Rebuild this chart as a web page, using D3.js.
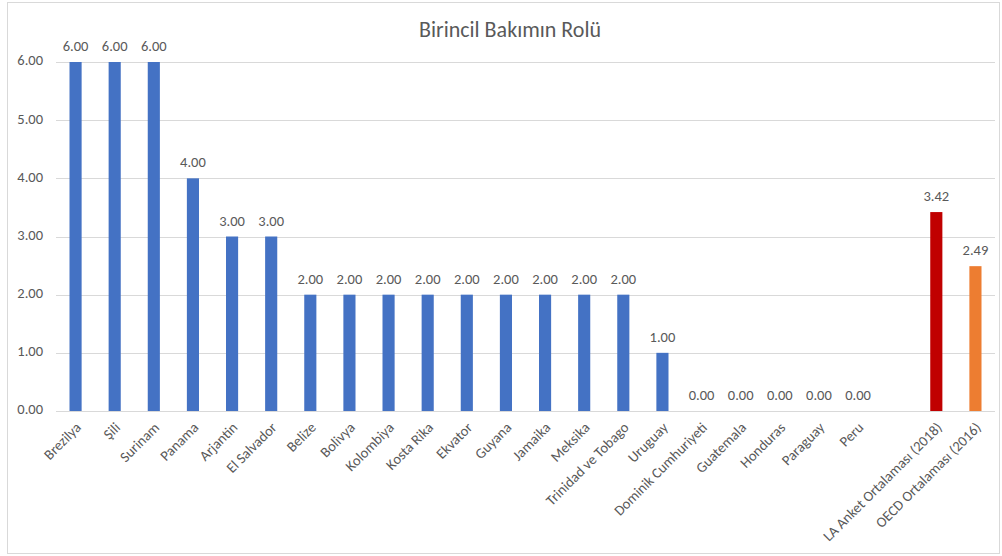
<!DOCTYPE html>
<html>
<head>
<meta charset="utf-8">
<script src="https://cdn.jsdelivr.net/npm/d3@7"></script>
<style>
  html, body { margin: 0; padding: 0; background: #fff; }
  svg text { font-family: Carlito, Calibri, Lato, "Liberation Sans", sans-serif; fill: #595959; }
</style>
</head>
<body>
<div id="viz"></div>
<script>
// categories in display order; the empty slot separates countries from the averages
const categories = ['Brezilya', 'Şili', 'Surinam', 'Panama', 'Arjantin', 'El Salvador', 'Belize',
  'Bolivya', 'Kolombiya', 'Kosta Rika', 'Ekvator', 'Guyana', 'Jamaika', 'Meksika',
  'Trinidad ve Tobago', 'Uruguay', 'Dominik Cumhuriyeti', 'Guatemala', 'Honduras',
  'Paraguay', 'Peru', '', 'LA Anket Ortalaması (2018)', 'OECD Ortalaması (2016)'];
const values = [6, 6, 6, 4, 3, 3, 2, 2, 2, 2, 2, 2, 2, 2, 2, 1, 0, 0, 0, 0, 0, null, 3.42, 2.49];
const yTicks = [0, 1, 2, 3, 4, 5, 6];

const barColor = (c) => c === 'LA Anket Ortalaması (2018)' ? '#C00000'
  : c === 'OECD Ortalaması (2016)' ? '#ED7D31' : '#4472C4';

const W = 1002, H = 556;
const margin = { top: 62, right: 7, bottom: 145, left: 56 };
const width = W - margin.left - margin.right;
const height = H - margin.top - margin.bottom;

const root = d3.select('#viz').append('svg')
  .attr('width', W).attr('height', H);

// chart frame
root.append('rect')
  .attr('x', 7.5).attr('y', 2.5)
  .attr('width', W - 10).attr('height', H - 5)
  .attr('fill', 'none').attr('stroke', '#d9d9d9');

root.append('text')
  .attr('x', 510).attr('y', 37)
  .attr('text-anchor', 'middle')
  .style('font-size', '22px')
  .text('Birincil Bakımın Rolü');

const svg = root.append('g')
  .attr('transform', `translate(${margin.left},${margin.top})`);

const x = d3.scaleBand().domain(categories.map((c, i) => i)).range([0, width]).paddingInner(0.69).paddingOuter(0.345);
const y = d3.scaleLinear().domain([0, 6]).range([height, 0]);

// gridlines
svg.append('g')
  .selectAll('line')
  .data(yTicks)
  .join('line')
  .attr('x1', 0).attr('x2', width)
  .attr('y1', d => Math.round(y(d)) + 0.5).attr('y2', d => Math.round(y(d)) + 0.5)
  .attr('stroke', '#d9d9d9');

// y tick labels
svg.append('g')
  .selectAll('text')
  .data(yTicks)
  .join('text')
  .attr('x', -13).attr('y', d => y(d))
  .attr('text-anchor', 'end')
  .attr('dominant-baseline', 'middle')
  .style('font-size', '14.5px')
  .text(d => d.toFixed(2));

const data = categories.map((c, i) => ({ c, i, v: values[i] })).filter(d => d.v !== null);

svg.append('g')
  .selectAll('rect')
  .data(data)
  .join('rect')
  .attr('x', d => x(d.i))
  .attr('width', x.bandwidth())
  .attr('y', d => y(d.v))
  .attr('height', d => y(0) - y(d.v))
  .attr('fill', d => barColor(d.c));

// value labels
svg.append('g')
  .selectAll('text')
  .data(data)
  .join('text')
  .attr('x', d => x(d.i) + x.bandwidth() / 2)
  .attr('y', d => y(d.v) - 11)
  .attr('text-anchor', 'middle')
  .style('font-size', '14.5px')
  .text(d => d.v.toFixed(2));

// category labels, rotated
svg.append('g')
  .selectAll('text')
  .data(categories.map((c, i) => ({ c, i })).filter(d => d.c))
  .join('text')
  .attr('transform', d => `translate(${x(d.i) + x.bandwidth() / 2 + 4},${height + 15}) rotate(-45)`)
  .attr('text-anchor', 'end')
  .attr('dominant-baseline', 'middle')
  .style('font-size', '14.5px')
  .text(d => d.c);
</script>
</body>
</html>
